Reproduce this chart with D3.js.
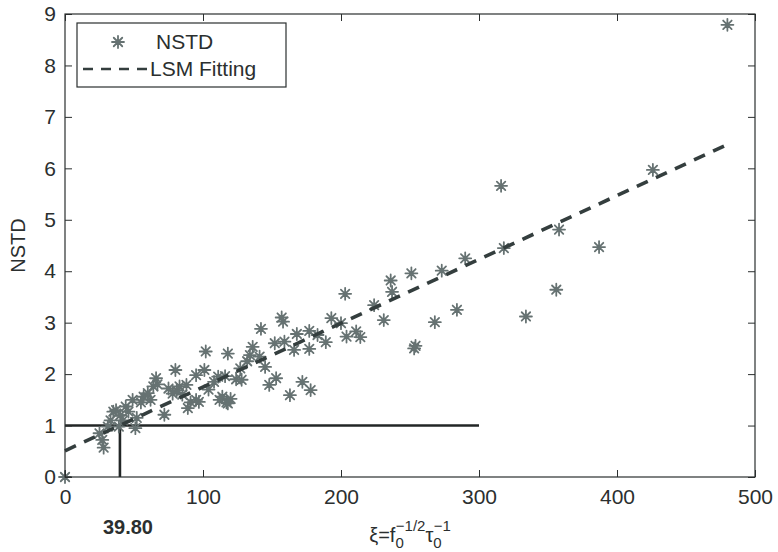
<!DOCTYPE html>
<html>
<head>
<meta charset="utf-8">
<script src="https://cdn.jsdelivr.net/npm/d3@7"></script>
<style>
  html, body { margin: 0; padding: 0; background: #fff; }
  svg { display: block; font-family: "Liberation Sans", Arial, Helvetica, sans-serif; }
</style>
</head>
<body>
<svg id="chart" width="778" height="552"></svg>
<script>
// Measured samples: xi = f0^(-1/2) * tau0^(-1) against NSTD
const xiValues = [
  0, 25, 27, 28, 31, 33, 35, 37, 39, 40, 42, 44, 46, 49, 51, 52, 55, 57, 60, 62,
  64, 66, 67, 72, 75, 78, 80, 81, 83, 85, 88, 89, 91, 95, 95, 97, 101, 102, 104, 108,
  111, 112, 114, 116, 117, 118, 118, 120, 124, 127, 128, 132, 134, 136, 141, 142, 145, 148, 152, 153,
  157, 158, 159, 163, 166, 168, 172, 177, 177, 178, 183, 189, 193, 200, 203, 204, 211, 214, 224, 231,
  236, 237, 251, 253, 254, 268, 273, 284, 290, 316, 318, 334, 356, 358, 387, 426, 480
];
const nstdValues = [
  0, 0.85, 0.72, 0.57, 0.98, 1.1, 1.27, 1.3, 0.98, 1.2, 1.1, 1.37, 1.27, 1.5, 0.95, 1.15, 1.45, 1.56, 1.63, 1.5,
  1.76, 1.92, 1.8, 1.21, 1.72, 1.62, 2.08, 1.69, 1.76, 1.6, 1.79, 1.34, 1.45, 1.5, 1.98, 1.46, 2.08, 2.44, 1.7, 1.85,
  1.95, 1.5, 1.56, 1.96, 1.45, 2.4, 1.43, 1.52, 1.9, 2.11, 1.89, 2.25, 2.37, 2.53, 2.34, 2.88, 2.14, 1.79, 2.6, 1.92,
  3.1, 3.02, 2.63, 1.59, 2.47, 2.78, 1.85, 2.84, 2.49, 1.69, 2.76, 2.62, 3.09, 2.99, 3.56, 2.73, 2.83, 2.72, 3.34, 3.05,
  3.82, 3.6, 3.96, 2.5, 2.55, 3.01, 4.01, 3.25, 4.25, 5.66, 4.45, 3.12, 3.64, 4.81, 4.47, 5.97, 8.79
];

// Least-squares fit NSTD = a + b * xi
const fitIntercept = 0.51;
const fitSlope = 0.0124;
const fitRange = [0, 478];

// Threshold guide: NSTD = 1 reached at xi = 39.80
const thresholdXi = 39.8;
const thresholdNstd = 1;
const thresholdXiEnd = 300;
const thresholdLabel = "39.80";

const xTicks = [0, 100, 200, 300, 400, 500];
const yTicks = [0, 1, 2, 3, 4, 5, 6, 7, 8, 9];
const legendLabels = ["NSTD", "LSM Fitting"];

const W = 778, H = 552;
const margin = { left: 65, right: 23, top: 14, bottom: 75 };
const iw = W - margin.left - margin.right;
const ih = H - margin.top - margin.bottom;

const axisColor = "#2b2f2f";
const markerColor = "#667272";
const fitColor = "#343e3e";
const guideColor = "#222626";

const svg = d3.select("#chart");
const g = svg.append("g").attr("transform", `translate(${margin.left},${margin.top})`);

const x = d3.scaleLinear().domain([0, 500]).range([0, iw]);
const y = d3.scaleLinear().domain([0, 9]).range([ih, 0]);

// Asterisk marker: plus and cross overlaid
function star(sel, r) {
  const d = r * Math.SQRT1_2;
  const path = `M${-r},0L${r},0M0,${-r}L0,${r}M${-d},${-d}L${d},${d}M${-d},${d}L${d},${-d}`;
  return sel.append("path").attr("d", path)
    .attr("stroke", markerColor).attr("stroke-width", 1.8).attr("fill", "none")
    .attr("stroke-linecap", "round");
}

// Threshold guide lines
g.append("line")
  .attr("x1", x(0)).attr("x2", x(thresholdXiEnd))
  .attr("y1", y(thresholdNstd)).attr("y2", y(thresholdNstd))
  .attr("stroke", guideColor).attr("stroke-width", 2.6);
g.append("line")
  .attr("x1", x(thresholdXi)).attr("x2", x(thresholdXi))
  .attr("y1", y(0)).attr("y2", y(thresholdNstd))
  .attr("stroke", guideColor).attr("stroke-width", 2.6);

// Scatter points
const points = xiValues.map((v, i) => [v, nstdValues[i]]);
g.append("g").selectAll("g.pt").data(points).join("g")
  .attr("class", "pt")
  .attr("transform", d => `translate(${x(d[0])},${y(d[1])})`)
  .each(function () { star(d3.select(this), 6); });

// Fitted line
const fitLine = d3.line().x(d => x(d)).y(d => y(fitIntercept + fitSlope * d));
g.append("path").datum(fitRange)
  .attr("d", fitLine)
  .attr("fill", "none").attr("stroke", fitColor).attr("stroke-width", 3.6)
  .attr("stroke-dasharray", "12,9");

// Axes with inward ticks on all four sides
function styleAxis(sel) {
  sel.select(".domain").remove();
  sel.selectAll(".tick line").attr("stroke", axisColor).attr("stroke-width", 1);
  sel.selectAll(".tick text").attr("fill", axisColor).attr("font-size", 21)
    .attr("font-family", "Liberation Sans, Arial, sans-serif");
}
const tk = 7;
g.append("g").attr("transform", `translate(0,${ih})`)
  .call(d3.axisBottom(x).tickValues(xTicks).tickSize(-tk).tickPadding(tk + 5).tickFormat(d3.format("d")))
  .call(styleAxis);
g.append("g")
  .call(d3.axisTop(x).tickValues(xTicks).tickSize(-tk).tickFormat(""))
  .call(styleAxis);
g.append("g")
  .call(d3.axisLeft(y).tickValues(yTicks).tickSize(-tk).tickPadding(tk + 2).tickFormat(d3.format("d")))
  .call(styleAxis);
g.append("g").attr("transform", `translate(${iw},0)`)
  .call(d3.axisRight(y).tickValues(yTicks).tickSize(-tk).tickFormat(""))
  .call(styleAxis);

// Box
g.append("rect").attr("width", iw).attr("height", ih)
  .attr("fill", "none").attr("stroke", axisColor).attr("stroke-width", 1.2);

// Y label
svg.append("text")
  .attr("transform", `translate(25,${margin.top + ih / 2}) rotate(-90)`)
  .attr("text-anchor", "middle").attr("font-size", 20).attr("fill", axisColor)
  .text("NSTD");

// X label: ξ=f0^(-1/2) τ0^(-1)
const xl = svg.append("text")
  .attr("x", margin.left + iw / 2).attr("y", 542)
  .attr("text-anchor", "middle").attr("font-size", 20).attr("fill", axisColor);
xl.append("tspan").text("ξ=f");
xl.append("tspan").attr("font-size", 15).attr("dy", 6).text("0");
xl.append("tspan").attr("font-size", 15).attr("dx", -8).attr("dy", -17).text("−1/2");
xl.append("tspan").attr("dy", 11).text("τ");
xl.append("tspan").attr("font-size", 15).attr("dy", 6).text("0");
xl.append("tspan").attr("font-size", 15).attr("dx", -8).attr("dy", -17).text("−1");

// Threshold value label
svg.append("text")
  .attr("x", margin.left + x(thresholdXi) + 8).attr("y", 534)
  .attr("text-anchor", "middle").attr("font-size", 20).attr("font-weight", "bold")
  .attr("fill", axisColor).text(thresholdLabel);

// Legend
const lg = g.append("g").attr("transform", `translate(${x(0) + 12},9)`);
lg.append("rect").attr("width", 209).attr("height", 64)
  .attr("fill", "#fff").attr("stroke", axisColor).attr("stroke-width", 1.2);
const r1 = 19, r2 = 46;
star(lg.append("g").attr("transform", `translate(41,${r1})`), 6);
lg.append("line").attr("x1", 6).attr("x2", 71).attr("y1", r2).attr("y2", r2)
  .attr("stroke", fitColor).attr("stroke-width", 2.4).attr("stroke-dasharray", "10,8");
lg.append("text").attr("x", 79).attr("y", r1 + 7).attr("font-size", 21).attr("fill", axisColor).text(legendLabels[0]);
lg.append("text").attr("x", 73).attr("y", r2 + 7).attr("font-size", 21).attr("fill", axisColor).text(legendLabels[1]);
</script>
</body>
</html>
